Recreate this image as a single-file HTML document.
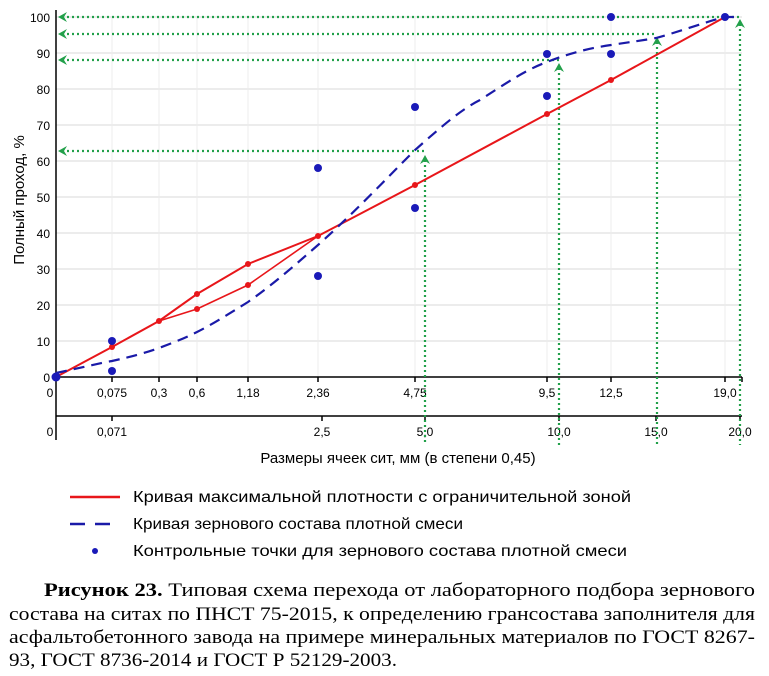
<!DOCTYPE html>
<html><head><meta charset="utf-8"><style>body{margin:0;background:#fff}svg{display:block}</style></head>
<body>
<svg width="769" height="676" viewBox="0 0 769 676" xmlns="http://www.w3.org/2000/svg" font-family="Liberation Sans, sans-serif">
<g stroke="#e6e6e6" stroke-width="1.5">
<line x1="56" y1="17" x2="742" y2="17"/><line x1="56" y1="53" x2="742" y2="53"/><line x1="56" y1="89" x2="742" y2="89"/><line x1="56" y1="125" x2="742" y2="125"/><line x1="56" y1="161" x2="742" y2="161"/><line x1="56" y1="197" x2="742" y2="197"/><line x1="56" y1="233" x2="742" y2="233"/><line x1="56" y1="269" x2="742" y2="269"/><line x1="56" y1="305" x2="742" y2="305"/><line x1="56" y1="341" x2="742" y2="341"/>
</g>
<g stroke="#ececec" stroke-width="1">
<line x1="112" y1="17" x2="112" y2="377"/><line x1="159" y1="17" x2="159" y2="377"/><line x1="197" y1="17" x2="197" y2="377"/><line x1="248" y1="17" x2="248" y2="377"/><line x1="318" y1="17" x2="318" y2="377"/><line x1="415" y1="17" x2="415" y2="377"/><line x1="547" y1="17" x2="547" y2="377"/><line x1="611" y1="17" x2="611" y2="377"/><line x1="725" y1="17" x2="725" y2="377"/>
</g>
<g stroke="#000" stroke-width="1.5" fill="none">
<line x1="56" y1="10" x2="56" y2="440"/>
<line x1="56" y1="377" x2="742" y2="377"/>
<line x1="56" y1="416" x2="742" y2="416"/>
<path d="M112 377v5M159 377v5M197 377v5M248 377v5M318 377v5M415 377v5M547 377v5M611 377v5M725 377v5M742 377v5"/>
<path d="M112 416v5M322 416v5M425 416v5M559 416v5M656 416v5M740 416v5"/>
</g>
<g font-size="12" fill="#000" text-anchor="end">
<text x="50" y="22">100</text><text x="50" y="58">90</text><text x="50" y="94">80</text><text x="50" y="130">70</text><text x="50" y="166">60</text><text x="50" y="202">50</text><text x="50" y="238">40</text><text x="50" y="274">30</text><text x="50" y="310">20</text><text x="50" y="346">10</text><text x="50" y="382">0</text>
</g>
<g font-size="12" fill="#000" text-anchor="middle">
<text x="50" y="397">0</text><text x="112" y="397">0,075</text><text x="159" y="397">0,3</text><text x="197" y="397">0,6</text><text x="248" y="397">1,18</text><text x="318" y="397">2,36</text><text x="415" y="397">4,75</text><text x="547" y="397">9,5</text><text x="611" y="397">12,5</text><text x="725" y="397">19,0</text>
<text x="50" y="436">0</text><text x="112" y="436">0,071</text><text x="322" y="436">2,5</text><text x="425" y="436">5,0</text><text x="559" y="436">10,0</text><text x="656" y="436">15,0</text><text x="740" y="436">20,0</text>
</g>
<text x="398" y="463" font-size="15" text-anchor="middle">Размеры ячеек сит, мм (в степени 0,45)</text>
<text transform="translate(24,200) rotate(-90)" font-size="15" text-anchor="middle">Полный проход, %</text>
<g stroke="#22a04a" stroke-width="2.2" stroke-dasharray="2,3" fill="none">
<line x1="62" y1="17" x2="740" y2="17"/><line x1="62" y1="34" x2="657" y2="34"/><line x1="62" y1="60" x2="559" y2="60"/><line x1="62" y1="151" x2="425" y2="151"/>
<line x1="425" y1="160" x2="425" y2="445"/><line x1="559" y1="68" x2="559" y2="445"/><line x1="657" y1="42" x2="657" y2="445"/><line x1="740" y1="24" x2="740" y2="445"/>
</g>
<g fill="#22a04a">
<path d="M58 17l9-5-3 5 3 5z"/><path d="M58 34l9-5-3 5 3 5z"/><path d="M58 60l9-5-3 5 3 5z"/><path d="M58 151l9-5-3 5 3 5z"/>
<path d="M425 155l-5 9 5-3 5 3z"/><path d="M559 63l-5 9 5-3 5 3z"/><path d="M657 37l-5 9 5-3 5 3z"/><path d="M740 19l-5 9 5-3 5 3z"/>
</g>
<g stroke="#e8161a" stroke-width="1.6" fill="none">
<polyline points="56,377 112,347 159,321 197,294 248,264 318,236 415,185 547,114 611,80 725,17" stroke-width="2"/>
<polyline points="159,321 197,309 248,285 318,236"/>
</g>
<g fill="#e8161a">
<circle cx="112" cy="347" r="3"/><circle cx="159" cy="321" r="3"/><circle cx="197" cy="294" r="3"/><circle cx="197" cy="309" r="3"/><circle cx="248" cy="264" r="3"/><circle cx="248" cy="285" r="3"/><circle cx="318" cy="236" r="3"/><circle cx="415" cy="185" r="3"/><circle cx="547" cy="114" r="3"/><circle cx="611" cy="80" r="3"/>
</g>
<path d="M56,373 C80,368 100,363 112,361 C130,357 145,353 159,348 C175,342 185,338 197,332 C215,323 230,313 248,302 C275,283 295,265 318,245 C355,212 385,180 415,150 C440,128 460,110 480,100 C505,84 525,70 547,62 C570,53 590,48 611,45 C630,42 645,40 656,38 C685,30 705,22 725,17 L740,17" stroke="#1a1aa8" stroke-width="2.2" stroke-dasharray="11,7" fill="none"/>
<g fill="#1a1ab8">
<circle cx="56" cy="377" r="4.5"/><circle cx="112" cy="341" r="4"/><circle cx="112" cy="371" r="4"/><circle cx="318" cy="168" r="4"/><circle cx="318" cy="276" r="4"/><circle cx="415" cy="107" r="4"/><circle cx="415" cy="208" r="4"/><circle cx="547" cy="54" r="4"/><circle cx="547" cy="96" r="4"/><circle cx="611" cy="17" r="4"/><circle cx="611" cy="54" r="4"/><circle cx="725" cy="17" r="4"/>
</g>
<line x1="70" y1="497" x2="120" y2="497" stroke="#e8161a" stroke-width="2.5"/>
<line x1="70" y1="524" x2="120" y2="524" stroke="#1a1aa8" stroke-width="2.5" stroke-dasharray="15,10"/>
<circle cx="95" cy="551" r="3" fill="#1a1ab8"/>
<g font-size="16" fill="#000">
<text x="133" y="502" textLength="498" lengthAdjust="spacingAndGlyphs">Кривая максимальной плотности с ограничительной зоной</text>
<text x="133" y="529" textLength="330" lengthAdjust="spacingAndGlyphs">Кривая зернового состава плотной смеси</text>
<text x="133" y="556" textLength="494" lengthAdjust="spacingAndGlyphs">Контрольные точки для зернового состава плотной смеси</text>
</g>
<g font-family="Liberation Serif, serif" font-size="19" fill="#000">
<text x="44" y="596" textLength="711" lengthAdjust="spacingAndGlyphs"><tspan font-weight="bold">Рисунок 23.</tspan> Типовая схема перехода от лабораторного подбора зернового</text>
<text x="9" y="620" textLength="746" lengthAdjust="spacingAndGlyphs">состава на ситах по ПНСТ 75-2015, к определению грансостава заполнителя для</text>
<text x="9" y="643" textLength="746" lengthAdjust="spacingAndGlyphs">асфальтобетонного завода на примере минеральных материалов по ГОСТ 8267-</text>
<text x="9" y="666" textLength="388" lengthAdjust="spacingAndGlyphs">93, ГОСТ 8736-2014 и ГОСТ Р 52129-2003.</text>
</g>
</svg>
</body></html>
